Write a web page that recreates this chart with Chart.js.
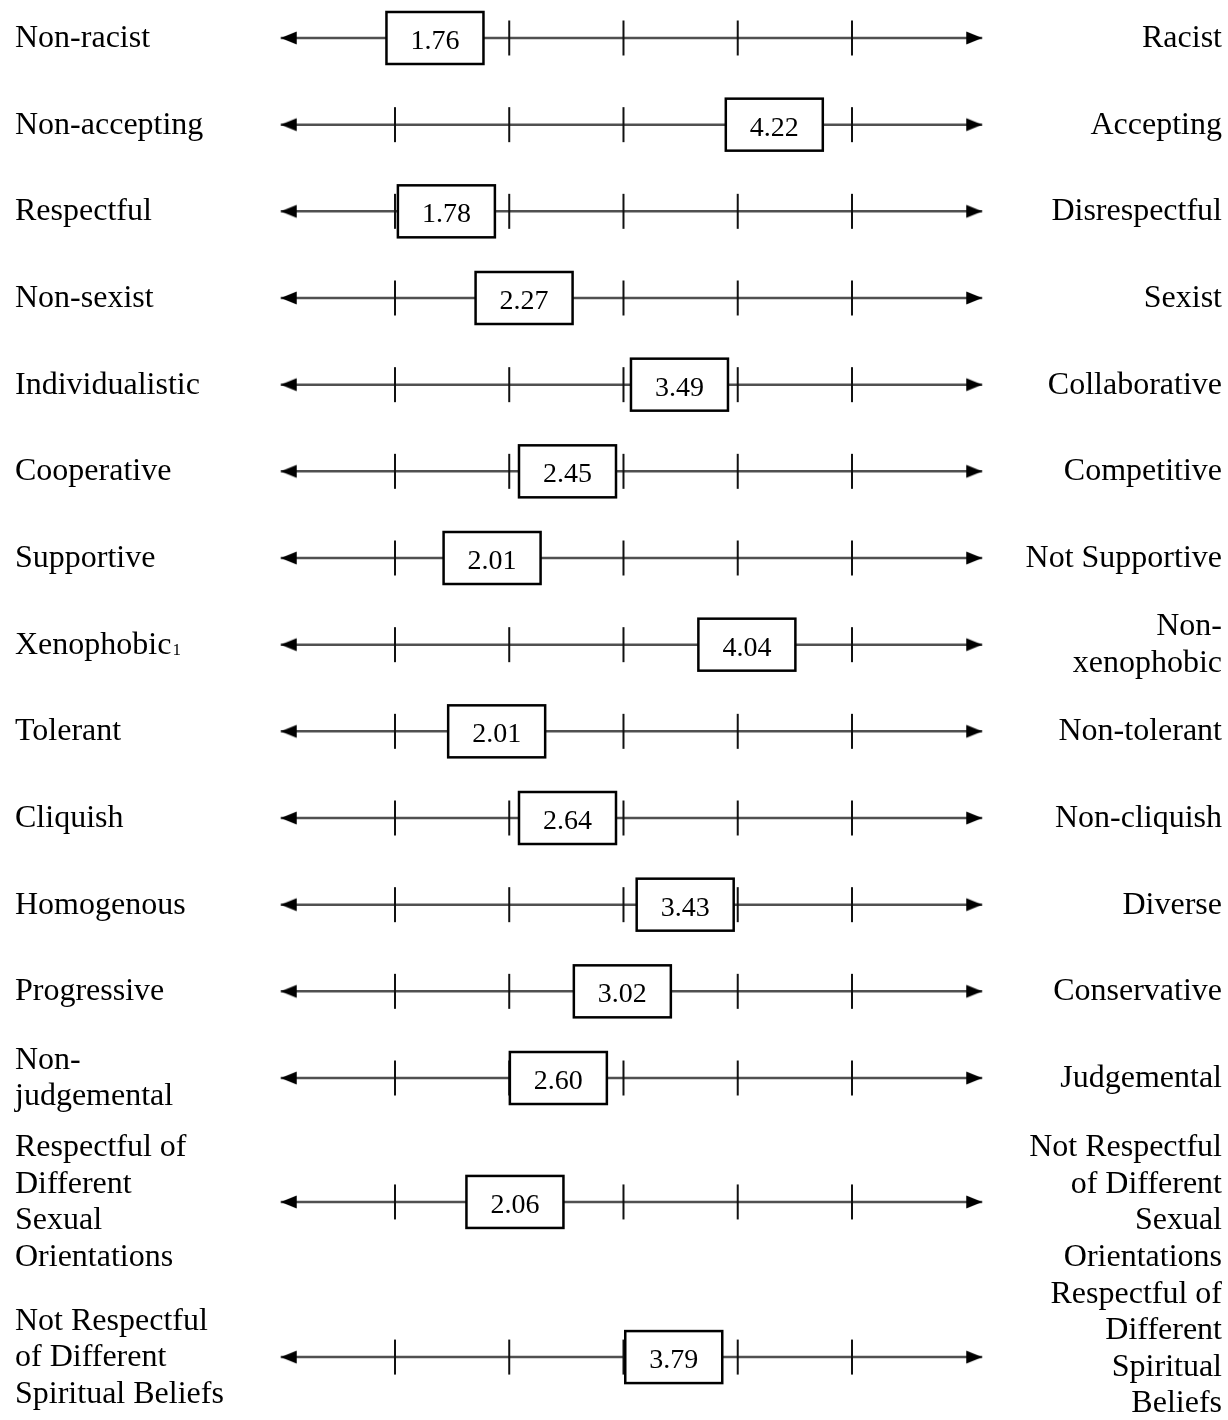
<!DOCTYPE html>
<html>
<head>
<meta charset="utf-8">
<title>Semantic differential</title>
<script src="https://cdn.jsdelivr.net/npm/chart.js@4.4.1/dist/chart.umd.min.js"></script>
<style>
    html, body { margin: 0; padding: 0; background: #fff; }
    #wrap { width: 1228px; height: 1420px; }
</style>
</head>
<body>
<div id="wrap"><canvas id="chart" width="1228" height="1420"></canvas></div>
<script>
// Left / right poles of each scale
const leftLabels = [
    'Non-racist', 'Non-accepting', 'Respectful', 'Non-sexist', 'Individualistic',
    'Cooperative', 'Supportive', 'Xenophobic\u2081', 'Tolerant', 'Cliquish',
    'Homogenous', 'Progressive', 'Non-\njudgemental',
    'Respectful of\nDifferent\nSexual\nOrientations',
    'Not Respectful\nof Different\nSpiritual Beliefs'
];
const rightLabels = [
    'Racist', 'Accepting', 'Disrespectful', 'Sexist', 'Collaborative',
    'Competitive', 'Not Supportive', 'Non-\nxenophobic', 'Non-tolerant', 'Non-cliquish',
    'Diverse', 'Conservative', 'Judgemental',
    'Not Respectful\nof Different\nSexual\nOrientations',
    'Respectful of\nDifferent\nSpiritual\nBeliefs'
];

// Mean ratings printed in the boxes
const means = ['1.76', '4.22', '1.78', '2.27', '3.49', '2.45', '2.01', '4.04',
               '2.01', '2.64', '3.43', '3.02', '2.60', '2.06', '3.79'];
// Where each box sits on the 1-5 scale (as drawn in the figure)
const boxAt = [1.35, 4.32, 1.45, 2.13, 3.49, 2.51, 1.85, 4.08,
               1.89, 2.51, 3.54, 2.99, 2.43, 2.05, 3.44];

// Row positions (rows 14, 15 are spaced out for multi-line labels)
const rowPos = [1, 2, 3, 4, 5, 6, 7, 8, 9, 10, 11, 12, 13, 14.43, 16.22];
const scalePoints = [1, 2, 3, 4, 5];
const axisEnds = [0, 6.14];

const FONT = '"Liberation Serif", "Times New Roman", serif';

// arrowhead image, tip at the canvas centre
function makeArrow(dir) {
    const c = document.createElement('canvas');
    c.width = 34; c.height = 16;
    const g = c.getContext('2d');
    g.fillStyle = '#000';
    g.beginPath();
    g.moveTo(17, 8);
    g.lineTo(17 + dir * 16, 1.5);
    g.lineTo(17 + dir * 16, 14.5);
    g.closePath();
    g.fill();
    return c;
}

const axisData = [];
rowPos.forEach(r => {
    axisData.push({ x: axisEnds[0], y: r }, { x: axisEnds[1], y: r }, { x: axisEnds[1], y: null });
});
const tickData = [];
rowPos.forEach(r => scalePoints.forEach(p => tickData.push({ x: p, y: r })));
const leftArrows = rowPos.map(r => ({ x: axisEnds[0], y: r }));
const rightArrows = rowPos.map(r => ({ x: axisEnds[1], y: r }));

const boxesAndLabels = {
    id: 'boxesAndLabels',
    afterDatasetsDraw(chart) {
        const { ctx, scales: { x, y } } = chart;
        ctx.save();

        // value boxes
        rowPos.forEach((r, i) => {
            const cx = x.getPixelForValue(boxAt[i]);
            const cy = y.getPixelForValue(r);
            const w = 97, h = 52;
            ctx.fillStyle = '#fff';
            ctx.fillRect(cx - w / 2, cy - h / 2, w, h);
            ctx.lineWidth = 2.5;
            ctx.strokeStyle = '#000';
            ctx.strokeRect(cx - w / 2, cy - h / 2, w, h);
            ctx.fillStyle = '#000';
            ctx.font = '28px ' + FONT;
            ctx.textAlign = 'center';
            ctx.textBaseline = 'alphabetic';
            ctx.fillText(means[i], cx, cy + 11);
        });

        // pole labels, centred on the row; kept inside the canvas at the bottom
        const lineH = 36.5;
        const bottomLimit = chart.height - 8;
        const drawLabel = (text, px, py, align) => {
            const lines = text.split('\n');
            let base = py + 9 - (lines.length - 1) * lineH / 2;
            const last = base + (lines.length - 1) * lineH;
            if (last > bottomLimit) base -= last - bottomLimit;
            ctx.textAlign = align;
            lines.forEach(line => {
                ctx.font = '32px ' + FONT;
                if (line.endsWith('\u2081')) {
                    const main = line.slice(0, -1);
                    ctx.fillText(main, px, base);
                    const wd = ctx.measureText(main).width;
                    ctx.font = '17px ' + FONT;
                    ctx.textAlign = 'left';
                    ctx.fillText('1', px + wd + 1, base + 1);
                    ctx.textAlign = align;
                } else {
                    ctx.fillText(line, px, base);
                }
                base += lineH;
            });
        };
        ctx.fillStyle = '#000';
        rowPos.forEach((r, i) => {
            const py = y.getPixelForValue(r);
            drawLabel(leftLabels[i], 15, py, 'left');
            drawLabel(rightLabels[i], 1222, py, 'right');
        });
        ctx.restore();
    }
};

new Chart(document.getElementById('chart'), {
    type: 'scatter',
    data: {
        datasets: [
            {
                type: 'line',
                data: axisData,
                borderColor: '#505050',
                borderWidth: 2.5,
                pointRadius: 0,
                spanGaps: false,
                order: 3
            },
            {
                data: tickData,
                pointStyle: 'line',
                rotation: 90,
                pointRadius: 17.5,
                borderColor: '#111',
                borderWidth: 2,
                order: 2
            },
            {
                data: leftArrows,
                pointStyle: makeArrow(1),
                order: 1
            },
            {
                data: rightArrows,
                pointStyle: makeArrow(-1),
                order: 1
            }
        ]
    },
    options: {
        responsive: false,
        animation: false,
        layout: { padding: 0, autoPadding: false },
        plugins: {
            legend: { display: false },
            tooltip: { enabled: false }
        },
        scales: {
            x: { type: 'linear', min: -2.457, max: 8.291, display: false },
            y: { type: 'linear', reverse: true, min: 0.5616, max: 16.946, display: false }
        }
    },
    plugins: [boxesAndLabels]
});
</script>
</body>
</html>
